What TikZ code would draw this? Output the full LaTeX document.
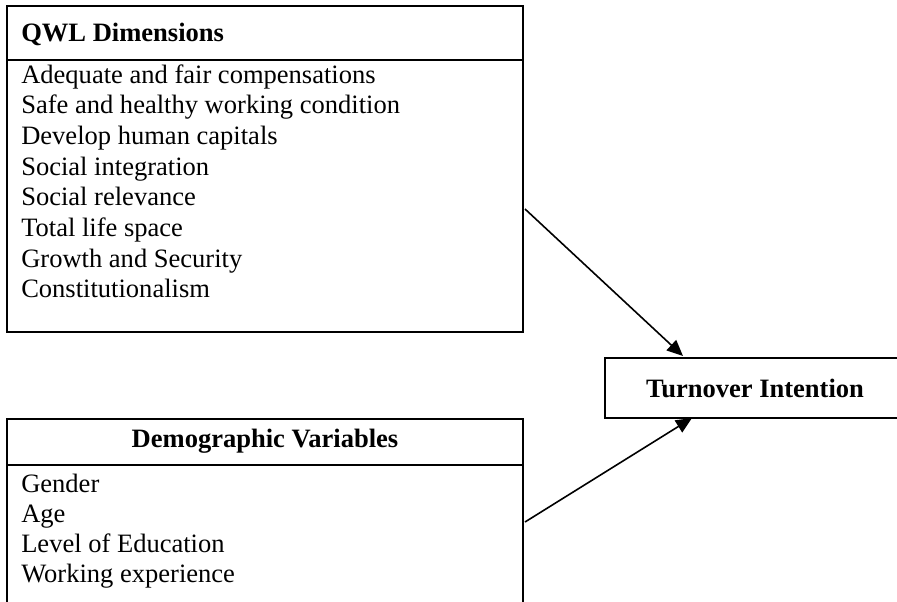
\documentclass[tikz,border=0pt]{standalone}
\usepackage{fontspec}
\setmainfont{Liberation Serif}
\usetikzlibrary{arrows.meta}
\begin{document}
\begin{tikzpicture}[x=0.75pt,y=-0.75pt,
  box/.style={draw,line width=1.5pt,inner sep=0pt,outer sep=0pt,anchor=north west},
  sep/.style={line width=1.5pt},
  item/.style={anchor=base west,inner sep=0pt,font=\fontsize{19.9pt}{24pt}\selectfont},
  head/.style={inner sep=0pt,font=\fontsize{19.9pt}{24pt}\selectfont\bfseries},
  arr/.style={line width=1.2pt,-{Triangle[length=12pt,width=10.5pt]}}]
\clip (0,0) rectangle (897,601);
\fill[white] (0,0) rectangle (897,601);
% QWL box
\node[box,minimum width=387pt,minimum height=244.5pt] (qwl) at (7,6) {};
\draw[sep] ([shift={(0,54)}]qwl.north west) -- ([shift={(0,54)}]qwl.north east);
\node[head,anchor=base west] (qwlh) at (21,41) {QWL Dimensions};
\foreach \t [count=\i] in {Adequate and fair compensations,Safe and healthy working condition,Develop human capitals,Social integration,Social relevance,Total life space,Growth and Security,Constitutionalism}
  \node[item] (q\i) at (21,{83+30.7*(\i-1)}) {\t};
% Demographic box
\node[box,minimum width=387pt,minimum height=150pt] (dem) at (7,419) {};
\draw[sep] ([shift={(0,46)}]dem.north west) -- ([shift={(0,46)}]dem.north east);
\node[head,anchor=base] (demh) at (265,447) {Demographic Variables};
\foreach \t [count=\i] in {Gender,Age,Level of Education,Working experience}
  \node[item] (d\i) at (21,{492+30*(\i-1)}) {\t};
% Turnover box
\node[box,minimum width=225pt,minimum height=45pt,font=\fontsize{19.9pt}{24pt}\selectfont\bfseries] (ti) at (605,358) {Turnover Intention};
% arrows
\draw[arr] ([shift={(2,-123)}]qwl.south east) -- ([shift={(78,-2)}]ti.north west);
\draw[arr] ([shift={(2,103)}]dem.north east) -- ([shift={(87,0)}]ti.south west);
\end{tikzpicture}
\end{document}
